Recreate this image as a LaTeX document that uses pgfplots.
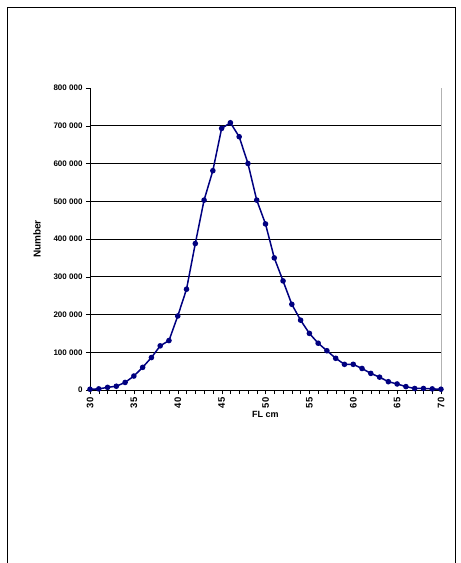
\documentclass[border=0pt]{standalone}
\usepackage{pgfplots}
\pgfplotsset{compat=1.18}
\usepackage{fontspec}
\setmainfont{Liberation Sans}
\begin{document}
\begin{tikzpicture}[x=1pt,y=1pt]
\useasboundingbox (-90,-173) rectangle (371,390);
\draw[line width=0.8pt] (-83,-180) rectangle (365,383);
\begin{axis}[at={(0,0)},anchor=origin,scale only axis,width=351pt,height=302pt,
 xmin=30,xmax=70,ymin=0,ymax=800000,
 xtick={30,35,...,70}, minor xtick={30,...,70},
 ytick={0,100000,...,700000},
 yticklabels={0,100 000,200 000,300 000,400 000,500 000,600 000,700 000},
 extra y ticks={800000}, extra y tick labels={800 000},
 extra y tick style={grid=none},
 scaled y ticks=false,
 ymajorgrids, grid style={black,line width=0.8pt},
 axis x line*=bottom, axis y line*=left,
 axis line style={black,line width=0.6pt},
 tick style={black},
 xtick align=outside, ytick align=outside,
 major tick length=4pt, minor tick length=4pt,
 x tick label style={rotate=90,anchor=east,font=\bfseries\fontsize{9.5}{10}\selectfont},
 y tick label style={font=\bfseries\fontsize{8}{9}\selectfont},
 /pgf/number format/assume math mode=true,
 xlabel={\bfseries\fontsize{9}{10}\selectfont FL cm}, ylabel={\bfseries\fontsize{10}{11}\selectfont Number},
 xlabel style={yshift=4pt}, ylabel style={yshift=-2pt},
 clip=false]
\draw[gray!60] (axis cs:70,0) -- (axis cs:70,800000);
\addplot[color={rgb,255:red,0;green,0;blue,128},line width=1.5pt,mark=*,mark size=2pt] coordinates {
(30,2000)(31,3000)(32,7000)(33,10000)(34,20000)(35,37000)(36,60000)(37,86000)(38,117000)(39,131000)
(40,196000)(41,267000)(42,388000)(43,503000)(44,581000)(45,693000)(46,708000)(47,671000)(48,600000)(49,503000)
(50,440000)(51,350000)(52,289000)(53,227000)(54,185000)(55,150000)(56,124000)(57,104000)(58,84000)(59,68000)
(60,68000)(61,57000)(62,44000)(63,34000)(64,22000)(65,16000)(66,9000)(67,4000)(68,4000)(69,3000)(70,2000)};
\end{axis}
\end{tikzpicture}
\end{document}
